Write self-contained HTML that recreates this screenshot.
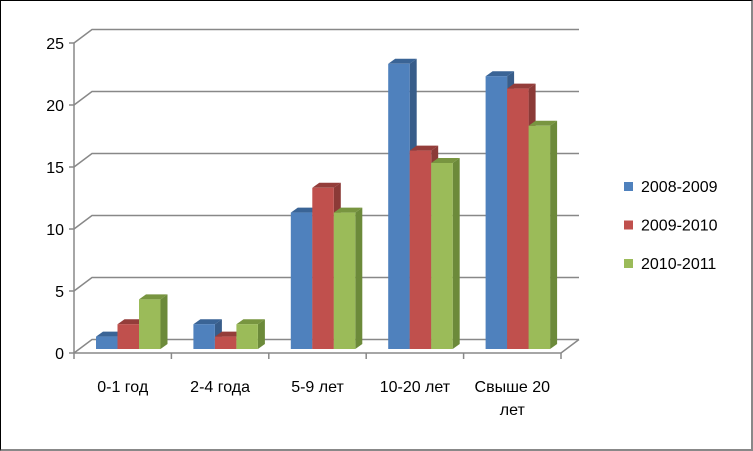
<!DOCTYPE html>
<html><head><meta charset="utf-8"><style>
body{margin:0;width:753px;height:451px;overflow:hidden;background:#fff;font-family:"Liberation Sans","DejaVu Sans",sans-serif}
#frame{position:absolute;left:0;top:0;width:750px;height:448px;border-left:1px solid #000;border-top:1px solid #000;border-right:2px solid #888;border-bottom:2px solid #888}
</style></head><body>
<div id="frame"></div>
<svg id="chart" width="753" height="451" style="position:absolute;left:0;top:0"></svg>
<script>
const categories=["0-1 год","2-4 года","5-9 лет","10-20 лет","Свыше 20|лет"];
const seriesNames=["2008-2009","2009-2010","2010-2011"];
const s2008=[1,2,11,23,22];
const s2009=[2,1,13,16,21];
const s2010=[4,2,11,15,18];
const yTicks=[0,5,10,15,20,25];
const series=[s2008,s2009,s2010];
const front=["#4f81bd","#c0504d","#9bbb59"],top_=["#3a6496","#943d3a","#789540"],side=["#385d8a","#8b3a37","#6c8a3a"];
const NS="http://www.w3.org/2000/svg";
const svg=document.getElementById('chart');
function mk(t,a,p){const e=document.createElementNS(NS,t);for(const k in a)e.setAttribute(k,a[k]);(p||svg).appendChild(e);return e;}
const X0=74,CW=97.4,Y0=353,UNIT=12.4,DX=18,DY=-13.5;
const y=v=>Y0-v*UNIT;
const cx=i=>X0+i*CW;
// gridlines
yTicks.forEach(t=>{
 const g=mk('g',{});
 
 
 mk('polyline',{points:`${X0},${y(t)} ${X0+DX},${y(t)+DY} ${X0+DX+CW*5},${y(t)+DY}`,fill:'none',stroke:'#888','stroke-width':1.5},g);
 mk('line',{x1:X0-5,x2:X0,y1:y(t),y2:y(t),stroke:'#888','stroke-width':1.5},g);
 const tx=mk('text',{x:X0-10,y:y(t)+6,'text-anchor':'end','font-size':16,fill:'#000'});
 tx.textContent=t;
 
 
});
mk('line',{x1:X0,x2:X0,y1:y(0),y2:y(25),stroke:'#888','stroke-width':1.5});
mk('polyline',{points:`${X0},${Y0} ${X0+CW*5},${Y0} ${X0+CW*5+DX},${Y0+DY}`,fill:'none',stroke:'#888','stroke-width':1.5});
for(let i=0;i<=5;i++)mk('line',{x1:cx(i),x2:cx(i),y1:Y0,y2:Y0+6,stroke:'#888','stroke-width':1.5});
// bars
const BW=21.5,bd=7,bt=-5,base=Y0-4;
categories.forEach((c,i)=>{
 series.forEach((s,k)=>{
  const v=s[i];const x=cx(i)+22+k*BW;const yt=base-v*UNIT;
  const g=mk('g',{});
  
  
  mk('polygon',{points:`${x+BW},${yt} ${x+BW+bd},${yt+bt} ${x+BW+bd},${base+bt} ${x+BW},${base}`,fill:side[k]},g);
  mk('polygon',{points:`${x},${yt} ${x+bd},${yt+bt} ${x+BW+bd},${yt+bt} ${x+BW},${yt}`,fill:top_[k]},g);
  mk('rect',{x:x,y:yt,width:BW,height:base-yt,fill:front[k]},g);
 });
 c.split('|').forEach((ln,j)=>{
  const t=mk('text',{x:cx(i)+CW/2,y:392+j*23,'text-anchor':'middle','font-size':16,fill:'#000'});
  t.textContent=ln;
  
  
 });
});
// legend
seriesNames.forEach((n,k)=>{
 const g=mk('g',{});
 
 
 mk('rect',{x:624,y:182+k*38.5,width:9,height:9,fill:front[k]},g);
 const t=mk('text',{x:641,y:192+k*38.5,'font-size':16,fill:'#000'},g);
 t.textContent=n;
});
</script>
</body></html>
